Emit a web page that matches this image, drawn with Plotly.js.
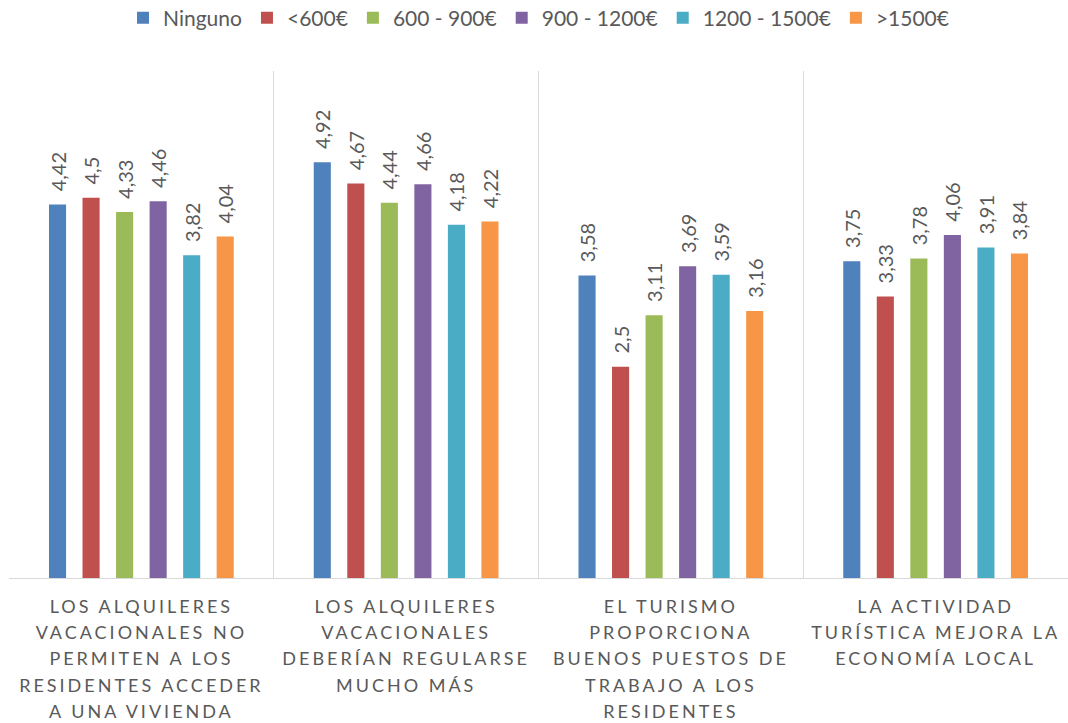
<!DOCTYPE html>
<html>
<head>
<meta charset="utf-8">
<script src="https://cdn.plot.ly/plotly-3.0.1.min.js"></script>
<style>
  html, body { margin: 0; padding: 0; background: #fff; }
  #chart { width: 1068px; height: 723px; }
  .xtick text { letter-spacing: 3px; }
</style>
</head>
<body>
<div id="chart"></div>
<script>
const categories = [
  "LOS ALQUILERES<br>VACACIONALES NO<br>PERMITEN A LOS<br>RESIDENTES ACCEDER<br>A UNA VIVIENDA",
  "LOS ALQUILERES<br>VACACIONALES<br>DEBERÍAN REGULARSE<br>MUCHO MÁS",
  "EL TURISMO<br>PROPORCIONA<br>BUENOS PUESTOS DE<br>TRABAJO A LOS<br>RESIDENTES",
  "LA ACTIVIDAD<br>TURÍSTICA MEJORA LA<br>ECONOMÍA LOCAL"
];
const seriesNames = ["Ninguno", "<600€", "600 - 900€", "900 - 1200€", "1200 - 1500€", ">1500€"];
const seriesColors = ["#4F81BD", "#C0504D", "#9BBB59", "#8064A2", "#4BACC6", "#F79646"];
const ninguno   = [4.42, 4.92, 3.58, 3.75];
const lt600     = [4.5, 4.67, 2.5, 3.33];
const s600_900  = [4.33, 4.44, 3.11, 3.78];
const s900_1200 = [4.46, 4.66, 3.69, 4.06];
const s1200_1500= [3.82, 4.18, 3.59, 3.91];
const gt1500    = [4.04, 4.22, 3.16, 3.84];
const seriesValues = [ninguno, lt600, s600_900, s900_1200, s1200_1500, gt1500];

const traces = seriesNames.map((name, i) => ({
  type: 'bar',
  name: name,
  x: categories,
  y: seriesValues[i],
  marker: { color: seriesColors[i] },
  texttemplate: '\u00a0\u00a0%{y}',
  textposition: 'outside',
  textangle: -90,
  constraintext: 'none',
  cliponaxis: false,
  textfont: { family: 'Lato, sans-serif', size: 20, color: '#595959' },
  hoverinfo: 'none'
}));

const layout = {
  width: 1068,
  height: 723,
  margin: { l: 9, r: 0, t: 71, b: 145 },
  paper_bgcolor: '#ffffff',
  plot_bgcolor: '#ffffff',
  separators: ',.',
  barmode: 'group',
  bargap: 0.24,
  bargroupgap: 0.49,
  showlegend: true,
  legend: {
    orientation: 'h',
    x: 0.5, xanchor: 'center',
    y: 0.975, yanchor: 'middle',
    yref: 'container',
    font: { family: 'Lato, sans-serif', size: 21, color: '#595959' },
    itemwidth: 30,
    traceorder: 'normal'
  },
  xaxis: {
    type: 'category',
    tickson: 'boundaries',
    showgrid: true,
    gridcolor: '#d9d9d9',
    gridwidth: 1,
    showline: true,
    linecolor: '#d9d9d9',
    linewidth: 1,
    ticks: '',
    ticklabelstandoff: 12,
    tickfont: { family: 'Lato, sans-serif', size: 18, color: '#595959' },
    fixedrange: true
  },
  yaxis: {
    range: [0, 6],
    visible: false,
    showgrid: false,
    zeroline: false,
    fixedrange: true
  }
};

Plotly.newPlot('chart', traces, layout, { displayModeBar: false, staticPlot: true }).then(gd => {
  const factor = 26.3 / (18 * 1.3);
  gd.querySelectorAll('.xtick text tspan.line').forEach(t => {
    const dy = t.getAttribute('dy');
    if (dy && dy.endsWith('em')) {
      const v = parseFloat(dy);
      t.setAttribute('dy', (v * factor) + 'em');
    }
  });
});
</script>
</body>
</html>
